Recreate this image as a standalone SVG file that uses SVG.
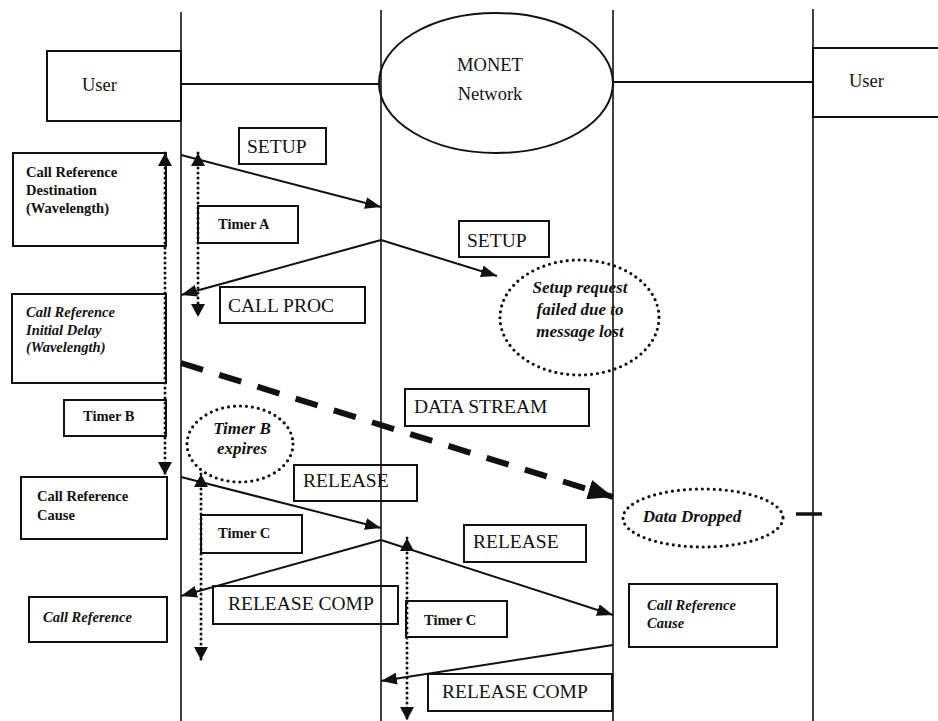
<svg xmlns="http://www.w3.org/2000/svg" width="938" height="721" viewBox="0 0 938 721">
  <style>
    .life { stroke: #111; stroke-width: 1.6; fill: none; }
    .box { stroke: #111; stroke-width: 2; fill: none; }
    .wire { stroke: #111; stroke-width: 2; fill: none; }
    .dash-mark { stroke: #111; stroke-width: 3.5; fill: none; }
    .msg { stroke: #111; stroke-width: 2; fill: none; marker-end: url(#head); }
    .timer { stroke: #111; stroke-width: 3; fill: none; stroke-dasharray: 0 5; stroke-linecap: round; marker-start: url(#tick); marker-end: url(#tick); }
    .note { stroke: #111; stroke-width: 3.2; fill: none; stroke-dasharray: 0 6; stroke-linecap: round; }
    .stream { stroke: #111; stroke-width: 6; fill: none; stroke-dasharray: 23 17; marker-end: url(#bighead); }
    text { font-family: "Liberation Serif", "Times New Roman", serif; fill: #111; }
    .big { font-size: 19.5px; }
    .head { font-size: 18.5px; }
    .small { font-size: 14.5px; font-weight: bold; }
    .smallit { font-size: 14.5px; font-weight: bold; font-style: italic; }
    .it { font-size: 17px; font-weight: bold; font-style: italic; }
  </style>
  <defs>
    <marker id="head" markerUnits="userSpaceOnUse" markerWidth="16" markerHeight="12" refX="16" refY="6" orient="auto">
      <path d="M0,0 L16,6 L0,12 z" fill="#111"/>
    </marker>
    <marker id="tick" markerUnits="userSpaceOnUse" markerWidth="14" markerHeight="14" refX="13" refY="7" orient="auto-start-reverse">
      <path d="M0,0 L13,7 L0,14 z" fill="#111"/>
    </marker>
    <marker id="bighead" markerUnits="userSpaceOnUse" markerWidth="25" markerHeight="20" refX="25" refY="10" orient="auto">
      <path d="M0,0 L25,10 L0,20 z" fill="#111"/>
    </marker>
  </defs>

  <!-- lifelines -->
  <g id="lifelines">
    <line class="life" x1="181" y1="12" x2="181" y2="721"/>
    <line class="life" x1="381" y1="10" x2="381" y2="721"/>
    <line class="life" x1="613" y1="10" x2="613" y2="721"/>
    <line class="life" x1="813" y1="9" x2="813" y2="721"/>
  </g>

  <!-- end points -->
  <g id="user-left">
    <rect class="box" x="47" y="51" width="134" height="70"/>
    <text class="head" x="82" y="91">User</text>
  </g>
  <g id="network">
    <ellipse class="box" cx="496" cy="83" rx="117" ry="70"/>
    <text class="head" x="490" y="71" text-anchor="middle">MONET</text>
    <text class="head" x="490" y="100" text-anchor="middle">Network</text>
  </g>
  <g id="user-right">
    <rect class="box" x="813" y="48" width="130" height="69"/>
    <text class="head" x="849" y="87">User</text>
  </g>

  <!-- connectors -->
  <g id="connectors">
    <line class="wire" x1="181" y1="84" x2="379" y2="84"/>
    <line class="wire" x1="613" y1="82" x2="813" y2="82"/>
    <line class="msg" x1="181" y1="155" x2="381" y2="207"/>
    <line class="msg" x1="381" y1="240" x2="181" y2="295"/>
    <line class="msg" x1="381" y1="240" x2="497" y2="276"/>
    <line class="stream" x1="181" y1="363" x2="613" y2="497"/>
    <line class="msg" x1="181" y1="477" x2="381" y2="528"/>
    <line class="msg" x1="381" y1="540" x2="181" y2="596"/>
    <line class="msg" x1="381" y1="540" x2="613" y2="615"/>
    <line class="msg" x1="613" y1="645" x2="381" y2="681"/>
    <line class="dash-mark" x1="796" y1="514" x2="822" y2="514"/>
    <line class="timer" x1="165" y1="153" x2="165" y2="475"/>
    <line class="timer" x1="198" y1="153" x2="198" y2="317"/>
    <line class="timer" x1="201" y1="474" x2="201" y2="660"/>
    <line class="timer" x1="407" y1="538" x2="407" y2="720"/>
  </g>

  <!-- message labels -->
  <g id="setup-1">
    <rect class="box" x="239" y="128" width="87" height="36"/>
    <text class="big" x="247" y="153">SETUP</text>
  </g>
  <g id="setup-2">
    <rect class="box" x="459" y="221" width="90" height="36"/>
    <text class="big" x="467" y="247">SETUP</text>
  </g>
  <g id="call-proc">
    <rect class="box" x="220" y="287" width="145" height="36"/>
    <text class="big" x="228" y="312">CALL PROC</text>
  </g>
  <g id="data-stream">
    <rect class="box" x="405" y="389" width="184" height="37"/>
    <text class="big" x="414" y="413">DATA STREAM</text>
  </g>
  <g id="release-1">
    <rect class="box" x="294" y="465" width="123" height="36"/>
    <text class="big" x="303" y="487">RELEASE</text>
  </g>
  <g id="release-2">
    <rect class="box" x="464" y="525" width="122" height="37"/>
    <text class="big" x="473" y="548">RELEASE</text>
  </g>
  <g id="release-comp-1">
    <rect class="box" x="213" y="586" width="185" height="38"/>
    <text class="big" x="228" y="610">RELEASE COMP</text>
  </g>
  <g id="release-comp-2">
    <rect class="box" x="428" y="674" width="184" height="37"/>
    <text class="big" x="442" y="698">RELEASE COMP</text>
  </g>

  <!-- parameter boxes -->
  <g id="params-setup">
    <rect class="box" x="13" y="153" width="153" height="93"/>
    <text class="small" x="26" y="177">Call Reference</text>
    <text class="small" x="26" y="195">Destination</text>
    <text class="small" x="26" y="213">(Wavelength)</text>
  </g>
  <g id="params-proc">
    <rect class="box" x="12" y="294" width="154" height="89"/>
    <text class="smallit" x="26" y="317">Call Reference</text>
    <text class="smallit" x="26" y="335">Initial Delay</text>
    <text class="smallit" x="26" y="352">(Wavelength)</text>
  </g>
  <g id="params-release-left">
    <rect class="box" x="21" y="477" width="146" height="62"/>
    <text class="small" x="37" y="501">Call Reference</text>
    <text class="small" x="37" y="520">Cause</text>
  </g>
  <g id="params-comp-left">
    <rect class="box" x="29" y="597" width="138" height="45"/>
    <text class="smallit" x="43" y="622">Call Reference</text>
  </g>
  <g id="params-release-right">
    <rect class="box" x="629" y="584" width="148" height="63"/>
    <text class="smallit" x="647" y="610">Call Reference</text>
    <text class="smallit" x="647" y="628">Cause</text>
  </g>

  <!-- timers -->
  <g id="timer-a">
    <rect class="box" x="198" y="206" width="100" height="37"/>
    <text class="small" x="218" y="229">Timer A</text>
  </g>
  <g id="timer-b">
    <rect class="box" x="64" y="400" width="102" height="36"/>
    <text class="small" x="83" y="421">Timer B</text>
  </g>
  <g id="timer-c-left">
    <rect class="box" x="201" y="515" width="101" height="38"/>
    <text class="small" x="218" y="538">Timer C</text>
  </g>
  <g id="timer-c-right">
    <rect class="box" x="406" y="601" width="101" height="36"/>
    <text class="small" x="424" y="625">Timer C</text>
  </g>

  <!-- event notes -->
  <g id="note-setup-failed">
    <ellipse class="note" cx="579.5" cy="317.5" rx="79.5" ry="57.5"/>
    <text class="it" x="580" y="293" text-anchor="middle">Setup request</text>
    <text class="it" x="580" y="315" text-anchor="middle">failed due to</text>
    <text class="it" x="580" y="337" text-anchor="middle">message lost</text>
  </g>
  <g id="note-timer-b">
    <ellipse class="note" cx="240" cy="444" rx="53" ry="38"/>
    <text class="it" x="242" y="434" text-anchor="middle">Timer B</text>
    <text class="it" x="242" y="454" text-anchor="middle">expires</text>
  </g>
  <g id="note-data-dropped">
    <ellipse class="note" cx="703" cy="518" rx="80" ry="29"/>
    <text class="it" x="692" y="522" text-anchor="middle">Data Dropped</text>
  </g>
</svg>
